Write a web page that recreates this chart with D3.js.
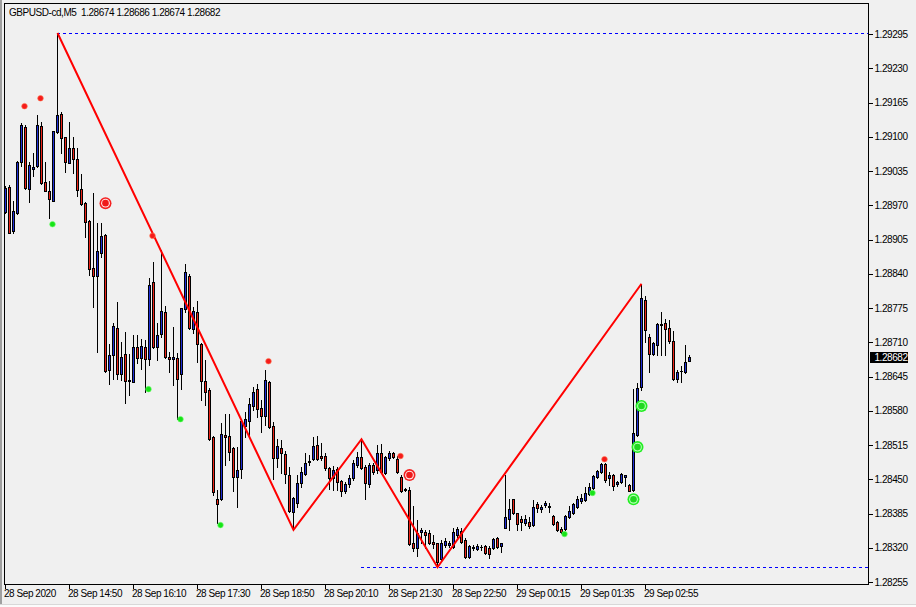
<!DOCTYPE html>
<html>
<head>
<meta charset="utf-8">
<script src="https://cdn.jsdelivr.net/npm/d3@7"></script>
<style>
body { margin: 0; background: #f0f0f0; }
text { font-family: "Liberation Sans", Arial, sans-serif; font-size: 10px; letter-spacing: -0.45px; }
</style>
</head>
<body>
<div id="chart"></div>
<script>
// GBPUSD M5 bars
var opens = [1.28957,1.29005,1.28921,1.28955,1.29052,1.29118,1.29001,1.29039,1.29044,1.29120,
  1.29014,1.28997,1.28978,1.29109,1.29143,1.29100,1.29050,1.29079,1.29058,1.29001,
  1.28974,1.28940,1.28851,1.28836,1.28879,1.28914,1.28657,1.28686,1.28737,1.28650,
  1.28688,1.28638,1.28635,1.28701,1.28680,1.28701,1.28678,1.28824,1.28701,1.28726,
  1.28767,1.28682,1.28678,1.28680,1.28650,1.28773,1.28836,1.28735,1.28767,1.28707,
  1.28636,1.28619,1.28530,1.28412,1.28412,1.28534,1.28532,1.28509,1.28454,1.28469,
  1.28551,1.28561,1.28589,1.28621,1.28585,1.28570,1.28635,1.28551,1.28490,1.28509,
  1.28498,1.28458,1.28388,1.28405,1.28443,1.28460,1.28483,1.28488,1.28515,1.28494,
  1.28494,1.28471,1.28452,1.28469,1.28447,1.28428,1.28441,1.28452,1.28477,1.28492,
  1.28473,1.28441,1.28477,1.28468,1.28500,1.28462,1.28490,1.28500,1.28488,1.28454,
  1.28431,1.28430,1.28329,1.28320,1.28350,1.28350,1.28348,1.28331,1.28329,1.28299,
  1.28325,1.28325,1.28321,1.28344,1.28352,1.28335,1.28302,1.28321,1.28318,1.28321,
  1.28323,1.28320,1.28320,1.28338,1.28323,1.28357,1.28375,1.28412,1.28386,1.28375,
  1.28367,1.28369,1.28363,1.28403,1.28394,1.28401,1.28399,1.28380,1.28369,1.28356,
  1.28356,1.28378,1.28386,1.28397,1.28409,1.28411,1.28422,1.28433,1.28454,1.28464,
  1.28479,1.28452,1.28458,1.28441,1.28445,1.28454,1.28439,1.28430,1.28534,1.28625,
  1.28790,1.28720,1.28688,1.28705,1.28745,1.28747,1.28737,1.28712,1.28640,1.28655,
  1.28654,1.28674];
var highs = [1.29007,1.29008,1.28978,1.29054,1.29126,1.29122,1.29052,1.29069,1.29141,1.29128,
  1.29052,1.29016,1.29111,1.29297,1.29147,1.29100,1.29128,1.29100,1.29079,1.29029,
  1.28976,1.28942,1.28993,1.28936,1.28936,1.28915,1.28707,1.28747,1.28786,1.28710,
  1.28729,1.28688,1.28724,1.28724,1.28716,1.28714,1.28832,1.28862,1.28747,1.28885,
  1.28779,1.28691,1.28739,1.28690,1.28775,1.28858,1.28840,1.28777,1.28788,1.28709,
  1.28676,1.28623,1.28532,1.28430,1.28557,1.28574,1.28574,1.28511,1.28511,1.28562,
  1.28578,1.28604,1.28625,1.28631,1.28600,1.28657,1.28636,1.28559,1.28526,1.28524,
  1.28504,1.28473,1.28416,1.28458,1.28473,1.28500,1.28496,1.28530,1.28532,1.28519,
  1.28500,1.28473,1.28475,1.28473,1.28449,1.28445,1.28458,1.28487,1.28502,1.28526,
  1.28477,1.28481,1.28481,1.28515,1.28517,1.28494,1.28504,1.28502,1.28494,1.28458,
  1.28433,1.28435,1.28399,1.28373,1.28357,1.28354,1.28354,1.28344,1.28329,1.28335,
  1.28338,1.28333,1.28357,1.28359,1.28357,1.28338,1.28325,1.28325,1.28327,1.28325,
  1.28325,1.28323,1.28338,1.28340,1.28329,1.28458,1.28412,1.28412,1.28386,1.28380,
  1.28382,1.28378,1.28411,1.28407,1.28401,1.28409,1.28405,1.28382,1.28371,1.28359,
  1.28382,1.28399,1.28405,1.28418,1.28422,1.28435,1.28443,1.28458,1.28468,1.28481,
  1.28481,1.28464,1.28460,1.28447,1.28462,1.28458,1.28441,1.28621,1.28633,1.28821,
  1.28798,1.28726,1.28710,1.28747,1.28767,1.28754,1.28752,1.28731,1.28657,1.28665,
  1.28705,1.28686];
var lows = [1.28955,1.28917,1.28917,1.28953,1.29044,1.29001,1.28976,1.29025,1.29043,1.29010,
  1.28997,1.28946,1.28978,1.29107,1.29069,1.29033,1.29050,1.29031,1.28988,1.28970,
  1.28910,1.28838,1.28777,1.28691,1.28872,1.28654,1.28631,1.28640,1.28640,1.28638,
  1.28595,1.28610,1.28635,1.28671,1.28659,1.28616,1.28667,1.28699,1.28676,1.28720,
  1.28680,1.28654,1.28629,1.28564,1.28621,1.28767,1.28735,1.28728,1.28672,1.28600,
  1.28591,1.28524,1.28420,1.28367,1.28411,1.28477,1.28487,1.28428,1.28397,1.28452,
  1.28530,1.28530,1.28581,1.28568,1.28540,1.28553,1.28547,1.28450,1.28473,1.28462,
  1.28443,1.28388,1.28354,1.28397,1.28435,1.28458,1.28477,1.28487,1.28487,1.28487,
  1.28468,1.28431,1.28430,1.28430,1.28418,1.28424,1.28435,1.28449,1.28473,1.28469,
  1.28412,1.28435,1.28460,1.28462,1.28462,1.28460,1.28487,1.28490,1.28462,1.28426,
  1.28428,1.28325,1.28314,1.28304,1.28329,1.28320,1.28327,1.28320,1.28283,1.28297,
  1.28321,1.28321,1.28320,1.28340,1.28329,1.28301,1.28301,1.28316,1.28316,1.28316,
  1.28308,1.28301,1.28318,1.28320,1.28312,1.28357,1.28354,1.28384,1.28354,1.28354,
  1.28363,1.28357,1.28361,1.28388,1.28388,1.28397,1.28388,1.28363,1.28352,1.28348,
  1.28354,1.28376,1.28384,1.28395,1.28405,1.28409,1.28420,1.28431,1.28452,1.28462,
  1.28445,1.28439,1.28430,1.28437,1.28443,1.28437,1.28428,1.28428,1.28532,1.28619,
  1.28710,1.28654,1.28686,1.28686,1.28686,1.28686,1.28709,1.28638,1.28635,1.28635,
  1.28652,1.28674];
var closes = [1.29003,1.28917,1.28959,1.29052,1.29122,1.29003,1.29046,1.29043,1.29122,1.29012,
  1.28997,1.28982,1.29111,1.29141,1.29098,1.29052,1.29079,1.29058,1.28999,1.28972,
  1.28938,1.28849,1.28836,1.28883,1.28912,1.28655,1.28686,1.28741,1.28650,1.28682,
  1.28636,1.28637,1.28701,1.28680,1.28703,1.28678,1.28819,1.28701,1.28724,1.28769,
  1.28682,1.28678,1.28682,1.28640,1.28775,1.28843,1.28737,1.28769,1.28707,1.28636,
  1.28616,1.28526,1.28426,1.28403,1.28536,1.28530,1.28502,1.28454,1.28468,1.28561,
  1.28564,1.28593,1.28616,1.28583,1.28570,1.28638,1.28549,1.28490,1.28513,1.28500,
  1.28460,1.28390,1.28414,1.28443,1.28464,1.28481,1.28485,1.28513,1.28488,1.28490,
  1.28471,1.28452,1.28468,1.28445,1.28428,1.28441,1.28452,1.28481,1.28492,1.28471,
  1.28443,1.28477,1.28464,1.28500,1.28464,1.28492,1.28500,1.28492,1.28464,1.28428,
  1.28430,1.28327,1.28320,1.28348,1.28354,1.28344,1.28329,1.28327,1.28293,1.28329,
  1.28333,1.28329,1.28350,1.28356,1.28331,1.28302,1.28323,1.28320,1.28323,1.28322,
  1.28310,1.28308,1.28337,1.28321,1.28329,1.28378,1.28394,1.28386,1.28365,1.28369,
  1.28375,1.28361,1.28397,1.28395,1.28397,1.28405,1.28398,1.28365,1.28354,1.28350,
  1.28380,1.28390,1.28403,1.28412,1.28414,1.28424,1.28435,1.28456,1.28466,1.28479,
  1.28449,1.28458,1.28437,1.28445,1.28460,1.28458,1.28428,1.28538,1.28623,1.28794,
  1.28733,1.28688,1.28709,1.28745,1.28743,1.28735,1.28712,1.28640,1.28654,1.28656,
  1.28672,1.28682];

var timeIdx = [0, 16, 32, 48, 64, 80, 96, 112, 128, 144, 160];
var timeLabels = ["28 Sep 2020", "28 Sep 14:50", "28 Sep 16:10", "28 Sep 17:30", "28 Sep 18:50",
  "28 Sep 20:10", "28 Sep 21:30", "28 Sep 22:50", "29 Sep 00:15", "29 Sep 01:35", "29 Sep 02:55"];
var priceTicks = [1.29295, 1.29230, 1.29165, 1.29100, 1.29035, 1.28970, 1.28905, 1.28840, 1.28775,
  1.28710, 1.28645, 1.28580, 1.28515, 1.28450, 1.28385, 1.28320, 1.28255];

// zigzag turning points [bar, price]
var zigzag = [[13, 1.29297], [72, 1.28354], [89, 1.28526], [108, 1.28283], [159, 1.28821]];
// high / low levels [from bar, price]
var levels = [[13, 1.29297], [89, 1.28283]];
// indicator signals [bar, price]
var redDots = [[4, 1.29158], [8, 1.29173], [36, 1.28912], [65, 1.28674], [98, 1.28494], [149, 1.28488]];
var greenDots = [[11, 1.28934], [35, 1.28621], [43, 1.28564], [53, 1.28363], [139, 1.28346], [146, 1.28424]];
var redRings = [[25, 1.28974], [101, 1.28458]];
var greenRings = [[157, 1.28412], [158, 1.28511], [159, 1.28589]];

var W = 916, H = 607;
var pLeft = 4, pTop = 3, pRight = 868, pBottom = 584;

var svg = d3.select("#chart")
    .append("svg")
    .attr("width", W)
    .attr("height", H);

svg.append("rect").attr("width", W).attr("height", H).attr("fill", "#f0f0f0");
svg.append("rect").attr("x", 0).attr("y", 0).attr("width", 2).attr("height", H).attr("fill", "#a0a0a0");
svg.append("rect").attr("x", 0).attr("y", 604).attr("width", W).attr("height", 3).attr("fill", "#fbfbfb");
svg.append("line").attr("x1", 0).attr("x2", W).attr("y1", 604.5).attr("y2", 604.5)
    .attr("stroke", "#d8d8d8");

var x = d3.scaleLinear().domain([0, 171]).range([5, 689]);
var y = d3.scaleLinear().domain([1.28255, 1.29295]).range([582, 34]);
function py(v) { return Math.round(y(v)); }

svg.append("clipPath").attr("id", "plot")
    .append("rect").attr("x", pLeft).attr("y", pTop).attr("width", pRight - pLeft).attr("height", pBottom - pTop);

var g = svg.append("g").attr("clip-path", "url(#plot)");

// dashed high/low levels
g.selectAll(".lvl")
    .data(levels)
    .enter()
    .append("line")
    .attr("x1", function (d) { return x(d[0]); })
    .attr("x2", pRight)
    .attr("y1", function (d) { return py(d[1]) + 0.5; })
    .attr("y2", function (d) { return py(d[1]) + 0.5; })
    .attr("stroke", "#0000ff")
    .attr("stroke-width", 1)
    .attr("stroke-dasharray", "3,3");

var bars = d3.range(opens.length);

// wicks
g.selectAll(".wick")
    .data(bars)
    .enter()
    .append("line")
    .attr("x1", function (i) { return x(i) + 0.5; })
    .attr("x2", function (i) { return x(i) + 0.5; })
    .attr("y1", function (i) { return py(highs[i]); })
    .attr("y2", function (i) { return py(lows[i]) + 1; })
    .attr("stroke", "#000")
    .attr("shape-rendering", "crispEdges");

// bodies: black outline then colour inside
g.selectAll(".body")
    .data(bars)
    .enter()
    .append("rect")
    .attr("x", function (i) { return x(i) - 1; })
    .attr("y", function (i) { return py(Math.max(opens[i], closes[i])); })
    .attr("width", 3)
    .attr("height", function (i) { return py(Math.min(opens[i], closes[i])) - py(Math.max(opens[i], closes[i])) + 1; })
    .attr("fill", "#000")
    .attr("shape-rendering", "crispEdges");

g.selectAll(".fill")
    .data(bars.filter(function (i) {
        return py(Math.min(opens[i], closes[i])) - py(Math.max(opens[i], closes[i])) >= 2;
    }))
    .enter()
    .append("rect")
    .attr("x", function (i) { return x(i); })
    .attr("y", function (i) { return py(Math.max(opens[i], closes[i])) + 1; })
    .attr("width", 1)
    .attr("height", function (i) { return py(Math.min(opens[i], closes[i])) - py(Math.max(opens[i], closes[i])) - 1; })
    .attr("fill", function (i) { return closes[i] >= opens[i] ? "#1f2fd6" : "#ec2418"; })
    .attr("shape-rendering", "crispEdges");

// zigzag
g.append("path")
    .datum(zigzag)
    .attr("d", d3.line()
        .x(function (d) { return x(d[0]) + 0.5; })
        .y(function (d) { return y(d[1]); }))
    .attr("fill", "none")
    .attr("stroke", "#ff0000")
    .attr("stroke-width", 2);

// small signal dots
g.selectAll(".rdot")
    .data(redDots)
    .enter()
    .append("circle")
    .attr("cx", function (d) { return x(d[0]) + 3.5; })
    .attr("cy", function (d) { return y(d[1]); })
    .attr("r", 2.8)
    .attr("fill", "#f51b1b")
    .attr("stroke", "#ff7a50")
    .attr("stroke-width", 0.6);

g.selectAll(".gdot")
    .data(greenDots)
    .enter()
    .append("circle")
    .attr("cx", function (d) { return x(d[0]) + 3.5; })
    .attr("cy", function (d) { return y(d[1]); })
    .attr("r", 2.8)
    .attr("fill", "#17e317")
    .attr("stroke", "#70ff70")
    .attr("stroke-width", 0.6);

// ring markers
function rings(data, outer, mid, inner) {
    var r = g.selectAll(null)
        .data(data)
        .enter()
        .append("g")
        .attr("transform", function (d) { return "translate(" + (x(d[0]) + 0.5) + "," + y(d[1]) + ")"; });
    r.append("circle").attr("r", 6).attr("fill", outer);
    r.append("circle").attr("r", 4.4).attr("fill", mid);
    r.append("circle").attr("r", 3.3).attr("fill", inner);
}
rings(redRings, "#f52020", "#ffe6e6", "#ef1a1a");
rings(greenRings, "#22ee22", "#b4ffb4", "#20d820");

// frame
svg.append("rect")
    .attr("x", pLeft + 0.5)
    .attr("y", pTop + 0.5)
    .attr("width", pRight - pLeft)
    .attr("height", pBottom - pTop)
    .attr("fill", "none")
    .attr("stroke", "#000")
    .attr("shape-rendering", "crispEdges");

// price axis
var yAxis = svg.append("g")
    .attr("transform", "translate(" + (pRight + 0.5) + ",0)")
    .call(d3.axisRight(y)
        .tickValues(priceTicks)
        .tickFormat(d3.format(".5f"))
        .tickSize(4)
        .tickPadding(2));
yAxis.select(".domain").remove();
yAxis.selectAll("line").attr("stroke", "#000").attr("shape-rendering", "crispEdges");
yAxis.selectAll("text")
    .attr("fill", "#000")
    .style("font-family", "Liberation Sans, Arial, sans-serif")
    .style("font-size", "10px");

// time axis
var xAxis = svg.append("g")
    .attr("transform", "translate(0," + (pBottom + 0.5) + ")")
    .call(d3.axisBottom(x)
        .tickValues(timeIdx)
        .tickFormat(function (d, i) { return timeLabels[i]; })
        .tickSize(4));
xAxis.select(".domain").remove();
xAxis.selectAll("line").attr("stroke", "#000").attr("shape-rendering", "crispEdges");
xAxis.selectAll("text")
    .attr("fill", "#000")
    .attr("text-anchor", "start")
    .attr("x", -1.5)
    .attr("y", 12.5)
    .attr("dy", 0)
    .style("font-family", "Liberation Sans, Arial, sans-serif")
    .style("font-size", "10px");

// last price tag
var last = closes[closes.length - 1];
svg.append("rect")
    .attr("x", pRight + 2)
    .attr("y", py(last) - 5)
    .attr("width", 38)
    .attr("height", 11)
    .attr("fill", "#000");
svg.append("text")
    .attr("x", pRight + 6.5)
    .attr("y", py(last) + 4)
    .attr("fill", "#fff")
    .text(d3.format(".5f")(last));

// header
svg.append("text")
    .attr("x", 9)
    .attr("y", 16)
    .attr("fill", "#000")
    .text("GBPUSD-cd,M5\u00a0\u00a0" + [opens, highs, lows, closes].map(function (a) {
        return d3.format(".5f")(a[a.length - 1]);
    }).join(" "));
</script>
</body>
</html>
